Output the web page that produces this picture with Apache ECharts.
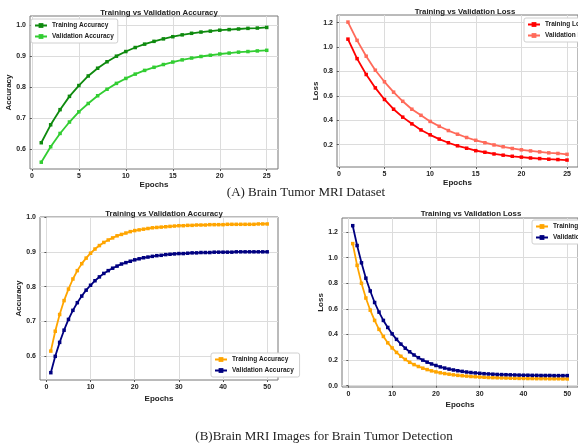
<!DOCTYPE html>
<html>
<head>
<meta charset="utf-8">
<script src="https://cdn.jsdelivr.net/npm/echarts@6/dist/echarts.min.js"></script>
<style>
  html, body { margin: 0; padding: 0; background: #fff; }
  #main { width: 578px; height: 445px; }
</style>
</head>
<body>
<div id="main"></div>
<script>
// 数据 (A) Brain Tumor MRI Dataset
const epochsA = [1, 2, 3, 4, 5, 6, 7, 8, 9, 10, 11, 12, 13, 14, 15, 16, 17, 18, 19, 20, 21, 22, 23, 24, 25];
const trainAccA = [0.620, 0.678, 0.727, 0.770, 0.805, 0.836, 0.861, 0.882, 0.900, 0.915, 0.928, 0.939, 0.948, 0.956, 0.963, 0.969, 0.974, 0.978, 0.981, 0.984, 0.986, 0.988, 0.990, 0.991, 0.993];
const valAccA = [0.557, 0.607, 0.650, 0.687, 0.720, 0.747, 0.772, 0.793, 0.812, 0.828, 0.842, 0.854, 0.864, 0.873, 0.881, 0.888, 0.894, 0.899, 0.903, 0.907, 0.910, 0.913, 0.915, 0.917, 0.919];
const trainLossA = [1.065, 0.905, 0.775, 0.665, 0.570, 0.490, 0.425, 0.370, 0.320, 0.280, 0.245, 0.215, 0.190, 0.170, 0.150, 0.137, 0.123, 0.113, 0.104, 0.097, 0.090, 0.085, 0.080, 0.077, 0.073];
const valLossA = [1.205, 1.055, 0.925, 0.810, 0.715, 0.630, 0.555, 0.490, 0.440, 0.390, 0.350, 0.315, 0.285, 0.258, 0.235, 0.215, 0.197, 0.182, 0.168, 0.157, 0.148, 0.140, 0.132, 0.127, 0.120];

// 数据 (B) Brain MRI Images for Brain Tumor Detection
const epochsB = [1, 2, 3, 4, 5, 6, 7, 8, 9, 10, 11, 12, 13, 14, 15, 16, 17, 18, 19, 20, 21, 22, 23, 24, 25,
  26, 27, 28, 29, 30, 31, 32, 33, 34, 35, 36, 37, 38, 39, 40, 41, 42, 43, 44, 45, 46, 47, 48, 49, 50];
const trainAccB = [0.615, 0.672, 0.720, 0.760, 0.793, 0.822, 0.846, 0.866, 0.882, 0.896, 0.908, 0.918, 0.927, 0.934, 0.940,
  0.946, 0.950, 0.954, 0.958, 0.961, 0.963, 0.965, 0.967, 0.969, 0.970, 0.971, 0.972, 0.973, 0.974, 0.975,
  0.975, 0.976, 0.976, 0.977, 0.977, 0.977, 0.978, 0.978, 0.978, 0.978, 0.979, 0.979, 0.979, 0.979, 0.979,
  0.979, 0.979, 0.980, 0.980, 0.980];
const valAccB = [0.553, 0.600, 0.640, 0.675, 0.706, 0.732, 0.754, 0.773, 0.790, 0.804, 0.817, 0.828, 0.838, 0.846, 0.853,
  0.859, 0.865, 0.869, 0.873, 0.877, 0.880, 0.883, 0.885, 0.887, 0.889, 0.890, 0.892, 0.893, 0.894, 0.895,
  0.895, 0.896, 0.897, 0.897, 0.898, 0.898, 0.898, 0.899, 0.899, 0.899, 0.899, 0.899, 0.900, 0.900, 0.900,
  0.900, 0.900, 0.900, 0.900, 0.900];
const trainLossB = [1.110, 0.940, 0.800, 0.685, 0.590, 0.510, 0.440, 0.385, 0.335, 0.295, 0.260, 0.230, 0.205, 0.183, 0.165,
  0.150, 0.137, 0.126, 0.116, 0.108, 0.101, 0.095, 0.090, 0.085, 0.081, 0.078, 0.075, 0.072, 0.070, 0.068,
  0.066, 0.064, 0.063, 0.062, 0.061, 0.060, 0.059, 0.058, 0.057, 0.057, 0.056, 0.056, 0.055, 0.055, 0.055,
  0.054, 0.054, 0.054, 0.053, 0.053];
const valLossB = [1.250, 1.095, 0.960, 0.840, 0.740, 0.650, 0.575, 0.510, 0.455, 0.405, 0.362, 0.325, 0.293, 0.265, 0.240,
  0.219, 0.200, 0.184, 0.170, 0.158, 0.147, 0.138, 0.130, 0.123, 0.117, 0.112, 0.107, 0.103, 0.100, 0.097,
  0.094, 0.092, 0.090, 0.088, 0.087, 0.086, 0.085, 0.084, 0.083, 0.082, 0.082, 0.081, 0.081, 0.080, 0.080,
  0.080, 0.079, 0.079, 0.079, 0.079];

// 刻度
const xTicksA = [0, 5, 10, 15, 20, 25];
const xTicksB = [0, 10, 20, 30, 40, 50];
const accTicks = [0.6, 0.7, 0.8, 0.9, 1.0];
const lossTicksA = [0.2, 0.4, 0.6, 0.8, 1.0, 1.2];
const lossTicksB = [0.0, 0.2, 0.4, 0.6, 0.8, 1.0, 1.2];

const FONT = "'Liberation Sans', Arial, sans-serif";
const SERIF = "'Liberation Serif', 'DejaVu Serif', serif";

function pairs(xs, ys) {
  return xs.map((x, i) => [x, ys[i]]);
}

function xAxisOf(gridIndex, min, max, ticks, nameGap) {
  return {
    type: 'value', gridIndex, min, max,
    name: 'Epochs', nameLocation: 'middle', nameGap,
    nameTextStyle: { fontFamily: FONT, fontSize: 8, fontWeight: 'bold', color: '#222' },
    axisLine: { show: false },
    axisTick: { show: true, customValues: ticks, length: 2, lineStyle: { color: '#555' } },
    axisLabel: {
      customValues: ticks, fontFamily: FONT, fontSize: 7, fontWeight: 'bold', color: '#222', margin: 4,
      formatter: v => String(v)
    },
    splitLine: { show: true, lineStyle: { color: '#dcdcdc', width: 1 } }
  };
}

function yAxisOf(gridIndex, name, min, max, ticks, nameGap) {
  return {
    type: 'value', gridIndex, min, max,
    name, nameLocation: 'middle', nameGap,
    nameTextStyle: { fontFamily: FONT, fontSize: 8, fontWeight: 'bold', color: '#222' },
    axisLine: { show: false },
    axisTick: { show: true, customValues: ticks, length: 2, lineStyle: { color: '#555' } },
    axisLabel: {
      customValues: ticks, fontFamily: FONT, fontSize: 7, fontWeight: 'bold', color: '#222', margin: 4,
      formatter: v => v.toFixed(1)
    },
    splitLine: { show: true, lineStyle: { color: '#dcdcdc', width: 1 } }
  };
}

function lineSeries(name, idx, data, color) {
  return {
    name, type: 'line', xAxisIndex: idx, yAxisIndex: idx, data,
    symbol: 'rect', symbolSize: 3.5, showSymbol: true,
    lineStyle: { color, width: 1.8 },
    itemStyle: { color },
    animation: false
  };
}

function legendOf(names, pos) {
  return Object.assign({
    data: names, orient: 'vertical',
    itemWidth: 12, itemHeight: 6, itemGap: 4,
    padding: [3, 4, 3, 3],
    backgroundColor: '#fff', borderColor: '#d0d0d0', borderWidth: 1, borderRadius: 2,
    textStyle: { fontFamily: FONT, fontSize: 6.5, fontWeight: 'bold', color: '#222' }
  }, pos);
}

const gridStyle = { show: true, borderColor: '#777', borderWidth: 1, backgroundColor: '#fff' };

const chart = echarts.init(document.getElementById('main'));

const option = {
  backgroundColor: '#fff',
  animation: false,
  title: [
    { text: 'Training vs Validation Accuracy', left: 154, top: 4, textAlign: 'center' },
    { text: 'Training vs Validation Loss', left: 460, top: 3, textAlign: 'center' },
    { text: 'Training vs Validation Accuracy', left: 159, top: 205, textAlign: 'center' },
    { text: 'Training vs Validation Loss', left: 466, top: 205, textAlign: 'center' },
    { text: '(A) Brain Tumor MRI Dataset', left: 301, top: 181, textAlign: 'center',
      textStyle: { fontFamily: SERIF, fontSize: 13, fontWeight: 'normal', color: '#222' } },
    { text: '(B)Brain MRI Images for Brain Tumor Detection', left: 319, top: 425, textAlign: 'center',
      textStyle: { fontFamily: SERIF, fontSize: 13, fontWeight: 'normal', color: '#222' } }
  ].map((t, i) => i < 4
    ? Object.assign(t, { textStyle: { fontFamily: FONT, fontSize: 7.8, fontWeight: 'bold', color: '#222' } })
    : t),
  grid: [
    Object.assign({ left: 30, top: 16, width: 248, height: 153 }, gridStyle),
    Object.assign({ left: 337, top: 15, width: 245, height: 152 }, gridStyle),
    Object.assign({ left: 40, top: 217, width: 238, height: 163 }, gridStyle),
    Object.assign({ left: 342, top: 218, width: 248, height: 169 }, gridStyle)
  ],
  xAxis: [
    xAxisOf(0, -0.2, 26.2, xTicksA, 12),
    xAxisOf(1, -0.2, 26.2, xTicksA, 12),
    xAxisOf(2, -1.45, 52.45, xTicksB, 15),
    xAxisOf(3, -1.45, 52.45, xTicksB, 14)
  ],
  yAxis: [
    yAxisOf(0, 'Accuracy', 0.535, 1.03, accTicks, 15),
    yAxisOf(1, 'Loss', 0.016, 1.263, lossTicksA, 15),
    yAxisOf(2, 'Accuracy', 0.532, 1.0, accTicks, 14),
    yAxisOf(3, 'Loss', -0.01, 1.31, lossTicksB, 14)
  ],
  legend: [
    legendOf(['Training Accuracy', 'Validation Accuracy'], { left: 31, top: 19 }),
    legendOf(['Training Loss', 'Validation Loss'], { left: 524, top: 18 }),
    legendOf(['Training Accuracy ', 'Validation Accuracy '], { left: 211, top: 353 }),
    legendOf(['Training Loss ', 'Validation Loss '], { left: 532, top: 220 })
  ],
  series: [
    lineSeries('Training Accuracy', 0, pairs(epochsA, trainAccA), '#0e8a0e'),
    lineSeries('Validation Accuracy', 0, pairs(epochsA, valAccA), '#32cd32'),
    lineSeries('Training Loss', 1, pairs(epochsA, trainLossA), '#ff0000'),
    lineSeries('Validation Loss', 1, pairs(epochsA, valLossA), '#ff6a5a'),
    lineSeries('Training Accuracy ', 2, pairs(epochsB, trainAccB), '#ffa500'),
    lineSeries('Validation Accuracy ', 2, pairs(epochsB, valAccB), '#000080'),
    lineSeries('Training Loss ', 3, pairs(epochsB, trainLossB), '#ffa500'),
    lineSeries('Validation Loss ', 3, pairs(epochsB, valLossB), '#000080')
  ]
};

chart.setOption(option);
</script>
</body>
</html>
